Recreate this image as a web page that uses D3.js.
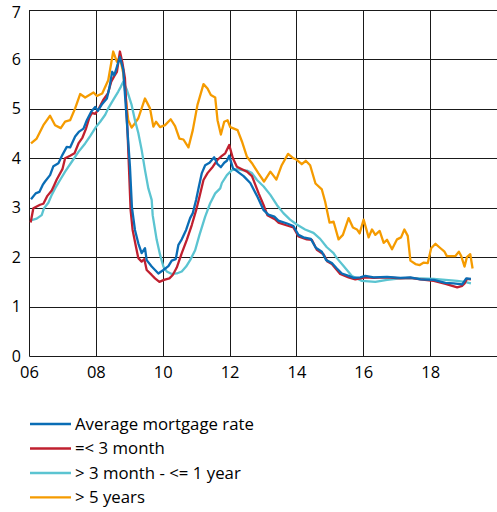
<!DOCTYPE html>
<html>
<head>
<meta charset="utf-8">
<script src="https://cdn.jsdelivr.net/npm/d3@7/dist/d3.min.js"></script>
<style>
  html, body { margin: 0; padding: 0; background: #fff; }
  text { font-family: "Open Sans", "Noto Sans", sans-serif; fill: #000; }
</style>
</head>
<body>
<svg id="chart" width="497" height="512"></svg>
<script>
// ---- data (decimal year, percent) ----
const xTicks = [2006, 2008, 2010, 2012, 2014, 2016, 2018];
const xTickLabels = ["06", "08", "10", "12", "14", "16", "18"];
const yTicks = [0, 1, 2, 3, 4, 5, 6, 7];
const seriesNames = ["Average mortgage rate", "=< 3 month", "> 3 month - <= 1 year", "> 5 years"];
const seriesColors = ["#0A6DB5", "#C0202F", "#5BC4D1", "#F59B00"];

const averageRate = [
  [2006.03,3.17],[2006.17,3.29],[2006.28,3.32],[2006.38,3.46],[2006.45,3.53],[2006.60,3.66],[2006.70,3.84],
  [2006.85,3.90],[2006.97,4.07],[2007.10,4.23],[2007.20,4.22],[2007.35,4.44],[2007.47,4.54],[2007.60,4.60],
  [2007.70,4.77],[2007.83,4.94],[2007.95,5.04],[2008.03,4.96],[2008.16,5.10],[2008.30,5.21],[2008.37,5.41],
  [2008.46,5.75],[2008.52,5.68],[2008.60,5.85],[2008.69,6.05],[2008.79,5.79],[2008.90,4.71],[2008.99,3.83],
  [2009.05,3.00],[2009.14,2.55],[2009.24,2.28],[2009.34,2.08],[2009.44,2.18],[2009.49,1.94],[2009.64,1.81],
  [2009.84,1.67],[2009.99,1.74],[2010.14,1.82],[2010.24,1.93],[2010.36,1.96],[2010.44,2.25],[2010.54,2.36],
  [2010.67,2.55],[2010.79,2.79],[2010.87,2.89],[2010.97,3.16],[2011.04,3.39],[2011.14,3.70],[2011.24,3.86],
  [2011.37,3.91],[2011.51,4.02],[2011.61,3.88],[2011.71,3.82],[2011.81,3.91],[2011.89,3.95],[2011.96,4.05],
  [2012.07,3.80],[2012.21,3.73],[2012.39,3.64],[2012.59,3.50],[2012.79,3.24],[2012.99,2.95],[2013.13,2.86],
  [2013.31,2.82],[2013.43,2.74],[2013.69,2.68],[2013.88,2.63],[2014.03,2.45],[2014.18,2.40],[2014.40,2.37],
  [2014.55,2.19],[2014.73,2.11],[2014.86,1.94],[2015.03,1.88],[2015.18,1.77],[2015.33,1.67],[2015.53,1.62],
  [2015.68,1.58],[2015.88,1.59],[2016.03,1.62],[2016.28,1.59],[2016.68,1.60],[2017.08,1.58],[2017.38,1.59],
  [2017.68,1.55],[2018.08,1.54],[2018.43,1.48],[2018.67,1.47],[2018.93,1.45],[2019.05,1.57],[2019.19,1.56]
];

const upTo3Month = [
  [2006.02,2.70],[2006.10,2.99],[2006.30,3.06],[2006.40,3.08],[2006.52,3.24],[2006.65,3.35],[2006.72,3.45],
  [2006.80,3.57],[2006.97,3.78],[2007.05,4.00],[2007.20,4.05],[2007.33,4.10],[2007.45,4.30],[2007.57,4.42],
  [2007.67,4.59],[2007.77,4.81],[2007.85,4.92],[2007.95,4.90],[2008.04,4.98],[2008.19,5.18],[2008.33,5.31],
  [2008.43,5.55],[2008.52,5.66],[2008.60,5.75],[2008.69,6.16],[2008.76,5.95],[2008.84,5.62],[2008.92,4.50],
  [2009.01,2.95],[2009.07,2.55],[2009.17,2.21],[2009.24,1.98],[2009.34,1.91],[2009.42,1.96],[2009.49,1.74],
  [2009.64,1.64],[2009.74,1.57],[2009.87,1.50],[2010.01,1.54],[2010.17,1.57],[2010.27,1.64],[2010.39,1.79],
  [2010.54,2.08],[2010.69,2.35],[2010.84,2.65],[2010.97,2.95],[2011.07,3.22],[2011.19,3.56],[2011.31,3.70],
  [2011.47,3.83],[2011.61,3.97],[2011.74,4.05],[2011.84,4.10],[2011.96,4.27],[2012.07,4.00],[2012.19,3.83],
  [2012.34,3.78],[2012.49,3.73],[2012.64,3.64],[2012.84,3.29],[2012.99,3.05],[2013.10,2.85],[2013.34,2.76],
  [2013.43,2.70],[2013.69,2.64],[2013.88,2.60],[2014.03,2.42],[2014.28,2.36],[2014.43,2.35],[2014.58,2.15],
  [2014.78,2.06],[2014.90,1.91],[2015.03,1.86],[2015.28,1.66],[2015.53,1.59],[2015.73,1.55],[2016.03,1.59],
  [2016.28,1.58],[2016.68,1.59],[2017.08,1.57],[2017.38,1.58],[2017.68,1.55],[2018.08,1.52],[2018.43,1.46],
  [2018.78,1.39],[2018.93,1.42],[2019.00,1.47],[2019.07,1.56],[2019.19,1.55]
];

const month3To1Year = [
  [2006.05,2.75],[2006.20,2.78],[2006.35,2.85],[2006.42,2.99],[2006.55,3.10],[2006.65,3.26],[2006.75,3.39],
  [2006.90,3.56],[2007.05,3.73],[2007.25,3.93],[2007.45,4.13],[2007.65,4.30],[2007.80,4.45],[2007.97,4.63],
  [2008.10,4.74],[2008.25,4.88],[2008.34,5.01],[2008.49,5.18],[2008.64,5.35],[2008.72,5.45],[2008.79,5.55],
  [2008.90,5.38],[2009.04,5.08],[2009.14,4.77],[2009.24,4.51],[2009.34,4.17],[2009.44,3.76],[2009.54,3.39],
  [2009.64,3.16],[2009.67,2.85],[2009.79,2.35],[2009.89,2.05],[2009.99,1.81],[2010.09,1.71],[2010.24,1.66],
  [2010.39,1.67],[2010.54,1.71],[2010.67,1.81],[2010.79,1.94],[2010.94,2.14],[2011.07,2.45],[2011.24,2.82],
  [2011.39,3.09],[2011.54,3.29],[2011.69,3.39],[2011.74,3.50],[2011.89,3.66],[2012.04,3.76],[2012.19,3.78],
  [2012.34,3.76],[2012.49,3.75],[2012.64,3.70],[2012.79,3.56],[2012.99,3.43],[2013.19,3.26],[2013.39,3.05],
  [2013.58,2.89],[2013.78,2.76],[2013.98,2.66],[2014.23,2.56],[2014.48,2.49],[2014.68,2.37],[2014.88,2.20],
  [2015.08,2.08],[2015.18,1.98],[2015.38,1.82],[2015.63,1.62],[2015.78,1.57],[2015.93,1.52],[2016.33,1.50],
  [2016.68,1.54],[2017.08,1.57],[2017.68,1.57],[2018.08,1.56],[2018.78,1.52],[2019.00,1.50],[2019.19,1.47]
];

const over5Years = [
  [2006.03,4.30],[2006.20,4.40],[2006.40,4.67],[2006.60,4.86],[2006.75,4.67],[2006.92,4.61],[2007.05,4.74],
  [2007.20,4.77],[2007.35,5.01],[2007.50,5.30],[2007.65,5.23],[2007.90,5.33],[2008.00,5.26],[2008.16,5.31],
  [2008.34,5.58],[2008.49,6.16],[2008.60,5.95],[2008.69,6.05],[2008.79,5.72],[2008.90,5.00],[2008.94,4.77],
  [2009.04,4.62],[2009.14,4.71],[2009.24,4.81],[2009.44,5.21],[2009.59,5.01],[2009.69,4.64],[2009.77,4.74],
  [2009.89,4.63],[2010.04,4.67],[2010.21,4.79],[2010.34,4.65],[2010.47,4.40],[2010.59,4.38],[2010.74,4.22],
  [2010.87,4.57],[2011.01,5.08],[2011.19,5.50],[2011.31,5.41],[2011.41,5.28],[2011.54,5.23],[2011.61,4.77],
  [2011.71,4.48],[2011.81,4.74],[2011.91,4.77],[2011.99,4.63],[2012.21,4.57],[2012.34,4.34],[2012.49,4.03],
  [2012.64,3.90],[2012.83,3.70],[2013.00,3.53],[2013.19,3.73],[2013.37,3.57],[2013.53,3.86],[2013.72,4.09],
  [2013.88,4.00],[2013.98,3.97],[2014.13,3.88],[2014.25,3.95],[2014.38,3.86],[2014.54,3.49],[2014.73,3.37],
  [2014.83,3.12],[2014.96,2.70],[2015.08,2.72],[2015.23,2.36],[2015.36,2.45],[2015.53,2.79],[2015.66,2.60],
  [2015.78,2.56],[2015.86,2.48],[2015.98,2.76],[2016.13,2.40],[2016.23,2.56],[2016.33,2.45],[2016.46,2.53],
  [2016.58,2.29],[2016.68,2.35],[2016.83,2.16],[2016.98,2.36],[2017.10,2.40],[2017.20,2.56],[2017.30,2.43],
  [2017.38,1.93],[2017.53,1.86],[2017.66,1.84],[2017.78,1.89],[2017.90,1.88],[2018.00,2.18],[2018.13,2.27],
  [2018.28,2.18],[2018.40,2.11],[2018.47,2.02],[2018.72,2.02],[2018.83,2.11],[2018.90,2.02],[2019.00,1.81],
  [2019.07,2.00],[2019.17,2.06],[2019.24,1.77]
];

const seriesData = [averageRate, upTo3Month, month3To1Year, over5Years];

// ---- layout ----
const svg = d3.select("#chart");
const plotLeft = 30, plotRight = 498, plotTop = 10, plotBottom = 356;

const x = d3.scaleLinear().domain([2006, 2020]).range([plotLeft, plotRight]);
const y = d3.scaleLinear().domain([0, 7]).range([plotBottom, plotTop]);

// grid
const grid = svg.append("g");
grid.selectAll("line.h").data(yTicks).enter().append("line")
  .attr("x1", plotLeft - 0.5).attr("x2", 497)
  .attr("y1", d => Math.round(y(d)) + 0.5).attr("y2", d => Math.round(y(d)) + 0.5)
  .attr("stroke", "#1a1a1a").attr("stroke-width", 1);
grid.selectAll("line.v").data(xTicks).enter().append("line")
  .attr("x1", d => Math.round(x(d)) - 0.5).attr("x2", d => Math.round(x(d)) - 0.5)
  .attr("y1", plotTop).attr("y2", plotBottom + 0.5)
  .attr("stroke", "#1a1a1a").attr("stroke-width", 1);

// axes labels via d3 axes
const yAxis = d3.axisLeft(y).tickValues(yTicks).tickSize(0).tickPadding(9)
  .tickFormat(d3.format("d"));
const gy = svg.append("g").attr("transform", `translate(${plotLeft},0)`).call(yAxis);
gy.select(".domain").remove();
gy.selectAll("text").style("font-size", "16px").style("font-family", "'Open Sans', sans-serif")
  .attr("fill", "#000")
  .attr("dy", d => d === 7 ? "0.45em" : "0.32em");

const xAxis = d3.axisBottom(x).tickValues(xTicks).tickSize(0).tickPadding(10)
  .tickFormat((d, i) => xTickLabels[i]);
const gx = svg.append("g").attr("transform", `translate(-1,${plotBottom})`).call(xAxis);
gx.select(".domain").remove();
gx.selectAll("text").style("font-size", "16.5px").style("font-family", "'Open Sans', sans-serif").attr("fill", "#000");

// lines (draw orange first, blue last)
const line = d3.line().x(d => x(d[0])).y(d => y(d[1]));
const order = [3, 2, 1, 0];
svg.append("g").selectAll("path").data(order).enter().append("path")
  .attr("d", i => line(seriesData[i]))
  .attr("fill", "none")
  .attr("stroke", i => seriesColors[i])
  .attr("stroke-width", 2.3)
  .attr("stroke-linejoin", "round");

// legend
const lg = svg.append("g");
const legendY = [424, 448.5, 473, 497.3];
seriesNames.forEach((name, i) => {
  lg.append("line").attr("x1", 30).attr("x2", 71)
    .attr("y1", legendY[i]).attr("y2", legendY[i])
    .attr("stroke", seriesColors[i]).attr("stroke-width", 2.3);
  lg.append("text").attr("x", 75).attr("y", legendY[i]).attr("dy", "0.35em")
    .style("font-size", "16.8px").text(name);
});
</script>
</body>
</html>
